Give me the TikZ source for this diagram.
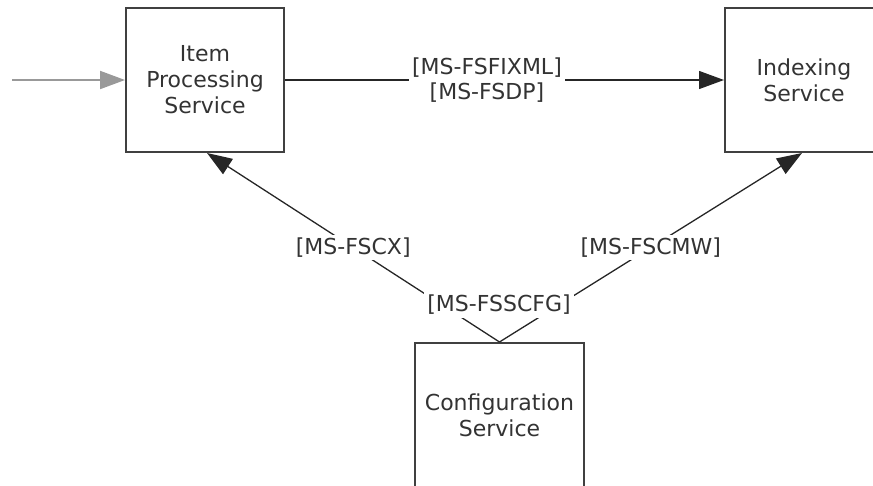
\documentclass[tikz,border=0pt]{standalone}
\usepackage{fontspec}
\setmainfont{DejaVu Sans}
\usetikzlibrary{arrows.meta}
\definecolor{txt}{HTML}{333333}
\definecolor{boxline}{HTML}{404040}
\definecolor{inarrow}{HTML}{999999}
\begin{document}
\begin{tikzpicture}[x=1pt,y=-1pt,
  svc/.style={draw=boxline,line width=2pt,fill=white,minimum width=158pt,minimum height=144pt,
    align=center,text=txt,font=\fontsize{22}{26}\selectfont,inner sep=0pt},
  conn/.style={draw=black!85,line width=1.3pt,-{Triangle[length=25pt,width=18pt]}},
  lbl/.style={fill=white,text=txt,font=\fontsize{22}{25}\selectfont,align=center,inner sep=3pt}]
\useasboundingbox (0,0) rectangle (873,485);
\clip (0,0) rectangle (873,485);
\node[svc] (item) at (205,80) {Item\\Processing\\Service};
\node[svc] (index) at (804,80) {Indexing\\Service};
\node[svc,minimum width=169pt] (config) at (499.5,415) {Configuration\\Service};
\coordinate (in) at (12,80);
\draw[line width=2pt,draw=inarrow,-{Triangle[length=25pt,width=18pt,fill=inarrow]}] (in) -- (item.west);
\draw[conn] (item.east) -- node[lbl,pos=0.46] {{[MS-FSFIXML]}\\{}{[MS-FSDP]}} (index.west);
\draw[conn] (config.north) -- node[lbl,pos=0.5] {[MS-FSCX]} ([xshift=2pt]item.south);
\draw[conn] (config.north) -- node[lbl,pos=0.5] {[MS-FSCMW]} ([xshift=-2pt]index.south);
\node[lbl] (cfg) at (499,305) {[MS-FSSCFG]};
\end{tikzpicture}
\end{document}
